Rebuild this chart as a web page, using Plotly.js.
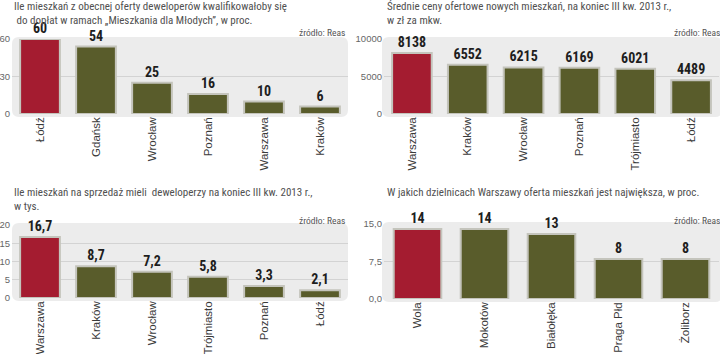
<!DOCTYPE html>
<html>
<head>
<meta charset="utf-8">
<script src="https://cdn.plot.ly/plotly-3.0.1.min.js"></script>
<style>html,body{margin:0;padding:0;background:#fff;}#chart{width:720px;height:354px;}</style>
</head>
<body>
<div id="chart"></div>
<script>
// ---- data ----
const cats1 = ['Łódź','Gdańsk','Wrocław','Poznań','Warszawa','Kraków'];
const vals1 = [60,54,25,16,10,6];
const ticks1 = [0,30,60];
const tickText1 = ['0','30','60'];

const cats2 = ['Warszawa','Kraków','Wrocław','Poznań','Trójmiasto','Łódź'];
const vals2 = [8138,6552,6215,6169,6021,4489];
const ticks2 = [0,5000,10000];
const tickText2 = ['0','5000','10000'];

const cats3 = ['Warszawa','Kraków','Wrocław','Trójmiasto','Poznań','Łódź'];
const vals3 = [16.7,8.7,7.2,5.8,3.3,2.1];
const labels3 = ['16,7','8,7','7,2','5,8','3,3','2,1'];
const ticks3 = [0,5,10,15,20];
const tickText3 = ['0','5','10','15','20'];

const cats4 = ['Wola','Mokotów','Białołęka','Praga Płd','Żoliborz'];
const vals4 = [14,14,13,8,8];
const ticks4 = [0,7.5,15];
const tickText4 = ['0,0','7,5','15,0'];

const titles = [
  'Ile mieszkań z obecnej oferty deweloperów kwalifikowałoby się<br> do dopłat w ramach „Mieszkania dla Młodych”, w proc.',
  'Średnie ceny ofertowe nowych mieszkań, na koniec III kw. 2013 r.,<br>w zł za mkw.',
  'Ile mieszkań na sprzedaż mieli  deweloperzy na koniec III kw. 2013 r.,<br>w tys.',
  'W jakich dzielnicach Warszawy oferta mieszkań jest największa, w proc.'
];
const sourceText = 'źródło: Reas';

// ---- styling ----
const W = 720, H = 354;
const RED = '#a41c30', OLIVE = '#595c2b';
const NARROW = '"Liberation Sans Narrow", "Arial Narrow", "Roboto Condensed", "Liberation Sans", sans-serif';
const px = x => x / W;
const py = y => 1 - y / H;

function colorsFor(n){ return Array.from({length:n}, (_,i) => i === 0 ? RED : OLIVE); }

function barTrace(cats, vals, text, xa, ya){
  return {
    type:'bar', x:cats, y:vals, text:text, textposition:'outside',
    cliponaxis:false, constraintext:'none',
    textfont:{family:NARROW, size:14, color:'#1e1e1e', weight:'bold'},
    marker:{color:colorsFor(cats.length), line:{color:'#c4c4bc', width:2}},
    xaxis:xa, yaxis:ya, hoverinfo:'none'
  };
}

const traces = [
  barTrace(cats1, vals1, vals1.map(String), 'x', 'y'),
  barTrace(cats2, vals2, vals2.map(String), 'x2', 'y2'),
  barTrace(cats3, vals3, labels3, 'x3', 'y3'),
  barTrace(cats4, vals4, vals4.map(String), 'x4', 'y4')
];

function xAxis(d0, d1, anchor){
  return {domain:[px(d0), px(d1)], anchor:anchor, tickangle:-90, showline:false, showgrid:false,
    zeroline:false, ticks:'', tickfont:{family:'"Liberation Sans", Arial, sans-serif', size:11.5, color:'#3a3a3a'},
    fixedrange:true};
}
function yAxis(top, bottom, anchor, range, tv, tt){
  return {domain:[py(bottom), py(top)], anchor:anchor, range:range, tickvals:tv, ticktext:tt,
    showline:false, zeroline:false, showgrid:true, gridcolor:'#d3d3d3', gridwidth:1, ticks:'',
    ticklabelstandoff:1,
    tickfont:{family:'"Liberation Sans", Arial, sans-serif', size:9.5, color:'#666'}, fixedrange:true};
}

function roundRect(x0, y0, x1, y1, r){
  const X = v => px(v).toFixed(5), Y = v => py(v).toFixed(5);
  return 'M'+X(x0+r)+','+Y(y0)+' L'+X(x1-r)+','+Y(y0)+' Q'+X(x1)+','+Y(y0)+' '+X(x1)+','+Y(y0+r)+
    ' L'+X(x1)+','+Y(y1-r)+' Q'+X(x1)+','+Y(y1)+' '+X(x1-r)+','+Y(y1)+
    ' L'+X(x0+r)+','+Y(y1)+' Q'+X(x0)+','+Y(y1)+' '+X(x0)+','+Y(y1-r)+
    ' L'+X(x0)+','+Y(y0+r)+' Q'+X(x0)+','+Y(y0)+' '+X(x0+r)+','+Y(y0)+' Z';
}
const bgBoxes = [[12,37,348,117],[382,37,722,117],[12,223,348,301],[382,222,722,302]];
const shapes = bgBoxes.map(b => ({type:'path', xref:'paper', yref:'paper', layer:'below',
  path:roundRect(b[0],b[1],b[2],b[3],7), fillcolor:'#ececec', line:{width:0}}));

const titlePos = [[12,-2],[385,-2],[12,184],[385,184]];
const annotations = titles.map((t,i) => ({
  text:t, xref:'paper', yref:'paper', x:px(titlePos[i][0]), y:py(titlePos[i][1]),
  xanchor:'left', yanchor:'top', align:'left', showarrow:false,
  font:{family:NARROW, size:11, color:'#505050'}
}));
const srcPos = [[347,33],[722,33],[347,220],[722,220]];
srcPos.forEach(p => annotations.push({
  text:sourceText, xref:'paper', yref:'paper', x:px(p[0]), y:py(p[1]),
  xanchor:'right', yanchor:'middle', showarrow:false,
  font:{family:NARROW, size:9.5, color:'#555'}
}));

const layout = {
  width:W, height:H, margin:{l:0,r:0,t:0,b:0},
  paper_bgcolor:'#fff', plot_bgcolor:'rgba(0,0,0,0)', showlegend:false,
  bargap:0.29,
  xaxis: xAxis(12,348,'y'),
  yaxis: yAxis(39,114,'x',[0,60],ticks1,tickText1),
  xaxis2: xAxis(384,719,'y2'),
  yaxis2: yAxis(39,114,'x2',[0,10000],ticks2,tickText2),
  xaxis3: xAxis(12,348,'y3'),
  yaxis3: yAxis(225,298,'x3',[0,20],ticks3,tickText3),
  xaxis4: xAxis(384,719,'y4'),
  yaxis4: yAxis(224,299,'x4',[0,15],ticks4,tickText4),
  shapes:shapes, annotations:annotations
};

Plotly.newPlot('chart', traces, layout, {staticPlot:true, displayModeBar:false});
</script>
</body>
</html>
